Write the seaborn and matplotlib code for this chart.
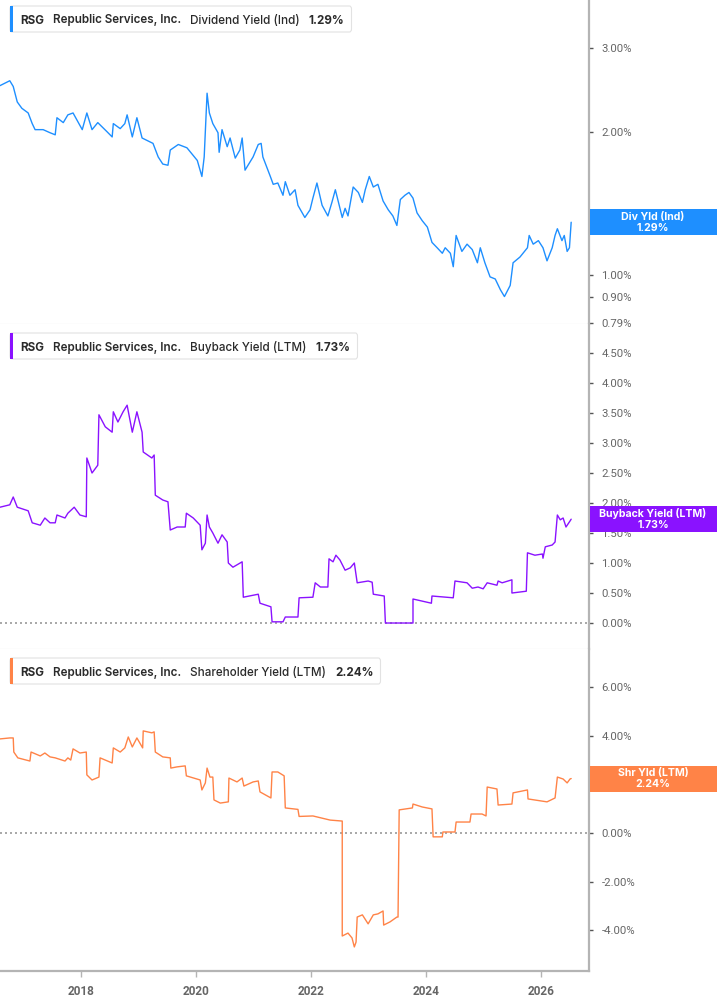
import numpy as np
import pandas as pd
import seaborn as sns
import matplotlib.pyplot as plt
from matplotlib.patches import Rectangle, FancyBboxPatch
from matplotlib.ticker import FixedLocator, NullLocator

##############################
# DATA
##############################

div_years = [2016.59, 2016.76, 2016.82, 2016.89, 2016.97, 2017.08, 2017.15, 2017.20, 2017.34, 2017.46,
             2017.55, 2017.58, 2017.69, 2017.77, 2017.86, 2018.02, 2018.10, 2018.19, 2018.29, 2018.45,
             2018.54, 2018.56, 2018.68, 2018.76, 2018.80, 2018.89, 2018.97, 2019.06, 2019.25, 2019.34,
             2019.42, 2019.51, 2019.55, 2019.69, 2019.84, 2020.02, 2020.10, 2020.14, 2020.19, 2020.23,
             2020.29, 2020.38, 2020.40, 2020.45, 2020.54, 2020.59, 2020.68, 2020.76, 2020.80, 2020.85,
             2020.99, 2021.08, 2021.13, 2021.16, 2021.29, 2021.34, 2021.42, 2021.51, 2021.55, 2021.63,
             2021.72, 2021.77, 2021.89, 2021.98, 2022.03, 2022.10, 2022.19, 2022.29, 2022.36, 2022.42,
             2022.54, 2022.59, 2022.64, 2022.73, 2022.82, 2022.89, 2022.94, 2023.01, 2023.08, 2023.16,
             2023.25, 2023.34, 2023.42, 2023.49, 2023.55, 2023.63, 2023.70, 2023.77, 2023.84, 2023.93,
             2024.02, 2024.10, 2024.19, 2024.28, 2024.33, 2024.42, 2024.47, 2024.52, 2024.62, 2024.71,
             2024.80, 2024.89, 2024.94, 2025.02, 2025.11, 2025.20, 2025.29, 2025.36, 2025.46, 2025.51,
             2025.63, 2025.76, 2025.79, 2025.86, 2025.95, 2026.03, 2026.10, 2026.19, 2026.24, 2026.28,
             2026.36, 2026.40, 2026.45, 2026.49, 2026.52]
div_vals = [2.50, 2.56, 2.49, 2.31, 2.24, 2.19, 2.08, 2.02, 2.02, 1.99,
            1.97, 2.14, 2.09, 2.17, 2.19, 2.02, 2.19, 2.02, 2.09, 2.00,
            1.95, 2.08, 2.03, 2.08, 2.17, 1.95, 2.14, 1.94, 1.89, 1.77,
            1.71, 1.70, 1.83, 1.88, 1.85, 1.74, 1.61, 1.77, 2.41, 2.19,
            2.08, 1.99, 1.81, 2.02, 1.86, 1.94, 1.76, 1.83, 1.94, 1.66,
            1.77, 1.88, 1.89, 1.77, 1.61, 1.55, 1.56, 1.47, 1.57, 1.47,
            1.51, 1.40, 1.32, 1.37, 1.45, 1.56, 1.40, 1.33, 1.42, 1.51,
            1.32, 1.38, 1.33, 1.53, 1.49, 1.42, 1.51, 1.61, 1.53, 1.55,
            1.43, 1.37, 1.33, 1.27, 1.44, 1.47, 1.49, 1.45, 1.35, 1.30,
            1.26, 1.17, 1.14, 1.11, 1.14, 1.11, 1.04, 1.21, 1.12, 1.16,
            1.13, 1.06, 1.14, 1.06, 0.99, 0.98, 0.93, 0.90, 0.95, 1.06,
            1.09, 1.14, 1.21, 1.16, 1.18, 1.14, 1.07, 1.14, 1.21, 1.25,
            1.18, 1.21, 1.12, 1.14, 1.29]

bb_years = [2016.59, 2016.76, 2016.82, 2016.89, 2017.08, 2017.15, 2017.29, 2017.37, 2017.46, 2017.55,
            2017.58, 2017.72, 2017.77, 2017.88, 2017.98, 2018.09, 2018.10, 2018.19, 2018.29, 2018.31,
            2018.42, 2018.54, 2018.56, 2018.64, 2018.73, 2018.80, 2018.89, 2018.97, 2019.06, 2019.08,
            2019.23, 2019.27, 2019.29, 2019.42, 2019.51, 2019.55, 2019.67, 2019.81, 2019.83, 2019.95,
            2020.07, 2020.10, 2020.16, 2020.19, 2020.23, 2020.29, 2020.38, 2020.45, 2020.54, 2020.56,
            2020.64, 2020.80, 2020.82, 2021.08, 2021.11, 2021.30, 2021.32, 2021.51, 2021.55, 2021.77,
            2021.79, 2022.03, 2022.07, 2022.16, 2022.29, 2022.31, 2022.38, 2022.43, 2022.50, 2022.59,
            2022.68, 2022.75, 2022.80, 2022.99, 2023.06, 2023.08, 2023.27, 2023.29, 2023.77, 2023.77,
            2024.09, 2024.10, 2024.47, 2024.50, 2024.71, 2024.80, 2024.90, 2024.99, 2025.06, 2025.23,
            2025.25, 2025.32, 2025.49, 2025.49, 2025.74, 2025.76, 2025.89, 2026.02, 2026.03, 2026.07,
            2026.19, 2026.24, 2026.28, 2026.33, 2026.38, 2026.43, 2026.50, 2026.52]
bb_vals = [1.93, 1.97, 2.10, 1.93, 1.87, 1.67, 1.63, 1.75, 1.67, 1.67,
           1.80, 1.75, 1.83, 1.93, 1.80, 1.77, 2.75, 2.50, 2.63, 3.47,
           3.27, 3.18, 3.52, 3.35, 3.52, 3.63, 3.18, 3.52, 3.18, 2.85,
           2.75, 2.80, 2.13, 2.05, 2.02, 1.55, 1.60, 1.60, 1.83, 1.75,
           1.63, 1.22, 1.33, 1.80, 1.60, 1.50, 1.33, 1.47, 1.35, 1.00,
           0.93, 1.02, 0.43, 0.48, 0.33, 0.27, 0.02, 0.02, 0.10, 0.10,
           0.42, 0.43, 0.67, 0.60, 0.60, 1.07, 1.02, 1.13, 1.05, 0.88,
           0.92, 1.00, 0.67, 0.70, 0.68, 0.48, 0.45, 0.00, 0.00, 0.40,
           0.33, 0.45, 0.42, 0.70, 0.67, 0.58, 0.60, 0.57, 0.67, 0.63,
           0.70, 0.67, 0.72, 0.50, 0.53, 1.17, 1.13, 1.15, 1.08, 1.27,
           1.30, 1.35, 1.80, 1.72, 1.75, 1.60, 1.70, 1.73]

shr_years = [2016.59, 2016.76, 2016.82, 2016.83, 2016.90, 2017.11, 2017.13, 2017.29, 2017.37, 2017.46,
             2017.55, 2017.72, 2017.77, 2017.82, 2017.86, 2017.98, 2018.09, 2018.10, 2018.19, 2018.31,
             2018.33, 2018.54, 2018.56, 2018.68, 2018.76, 2018.82, 2018.89, 2018.97, 2019.07, 2019.08,
             2019.23, 2019.27, 2019.29, 2019.42, 2019.55, 2019.56, 2019.67, 2019.81, 2019.83, 2020.07,
             2020.10, 2020.16, 2020.19, 2020.24, 2020.29, 2020.31, 2020.42, 2020.56, 2020.57, 2020.71,
             2020.80, 2020.83, 2020.99, 2021.08, 2021.11, 2021.30, 2021.32, 2021.42, 2021.53, 2021.55,
             2021.77, 2021.79, 2022.03, 2022.33, 2022.54, 2022.54, 2022.64, 2022.71, 2022.75, 2022.78,
             2022.80, 2022.89, 2022.99, 2023.08, 2023.16, 2023.25, 2023.26, 2023.37, 2023.49, 2023.51,
             2023.53, 2023.76, 2023.77, 2023.93, 2024.10, 2024.12, 2024.28, 2024.29, 2024.50, 2024.52,
             2024.76, 2024.78, 2024.97, 2025.04, 2025.06, 2025.23, 2025.25, 2025.49, 2025.51, 2025.76,
             2025.77, 2026.10, 2026.24, 2026.28, 2026.38, 2026.45, 2026.50, 2026.52]
shr_vals = [3.87, 3.91, 3.91, 3.33, 3.09, 2.96, 3.33, 3.17, 3.29, 3.13,
            3.09, 2.96, 3.09, 3.00, 3.46, 3.29, 3.33, 2.39, 2.18, 2.30,
            3.09, 2.88, 3.50, 3.33, 3.50, 3.95, 3.54, 3.91, 3.50, 4.20,
            4.12, 4.16, 3.33, 3.13, 3.09, 2.67, 2.72, 2.76, 2.35, 2.18,
            1.77, 2.06, 2.67, 2.30, 2.30, 1.36, 1.23, 1.28, 2.26, 2.10,
            2.26, 1.93, 2.10, 2.14, 1.69, 1.44, 2.51, 2.51, 2.35, 1.03,
            0.97, 0.68, 0.70, 0.53, 0.49, -4.24, -4.12, -4.32, -4.69, -4.49,
            -3.46, -3.37, -3.74, -3.37, -3.33, -3.21, -3.79, -3.66, -3.46, -3.46,
            0.95, 1.03, 1.19, 1.07, 0.99, -0.16, -0.16, 0.04, 0.04, 0.45,
            0.45, 0.78, 0.78, 0.70, 1.89, 1.81, 1.15, 1.19, 1.65, 1.77,
            1.40, 1.28, 1.44, 2.30, 2.22, 2.06, 2.22, 2.24]

series_names = ["Dividend Yield (Ind)", "Buyback Yield (LTM)", "Shareholder Yield (LTM)"]
short_names = ["Div Yld (Ind)", "Buyback Yield (LTM)", "Shr Yld (LTM)"]
last_vals = ["1.29%", "1.73%", "2.24%"]
colors = ["#1e8fff", "#8a12ff", "#ff8347"]

div_ticks = [3.0, 2.0, 1.0, 0.9, 0.79]
bb_ticks = [0.0, 0.5, 1.0, 1.5, 2.0, 2.5, 3.0, 3.5, 4.0, 4.5]
shr_ticks = [-4.0, -2.0, 0.0, 2.0, 4.0, 6.0]
year_ticks = [2018, 2020, 2022, 2024, 2026]

############################################
# FIGURE SETUP
############################################

sns.set_style("white")
plt.rcParams["font.family"] = ["Inter", "DejaVu Sans"]

W, H = 717, 1005
fig = plt.figure(figsize=(W / 100, H / 100), dpi=100)


def fx(x):
    return x / W


def fy(y):
    return 1 - y / H


panels = [(0, 324), (324, 649), (649, 971)]
plot_right = 589
axes = []
for top, bot in panels:
    ax = fig.add_axes([0, fy(bot), fx(plot_right), (bot - top) / H])
    axes.append(ax)

data = [(div_years, div_vals), (bb_years, bb_vals), (shr_years, shr_vals)]
ylims = [(0.788, 3.785), (-0.433, 4.983), (-5.68, 7.57)]
yticks = [div_ticks, bb_ticks, shr_ticks]

tick_grey = "#666666"
spine_grey = "#b4b4b4"

for i, ax in enumerate(axes):
    xs, ys = data[i]
    df = pd.DataFrame({"year": xs, "val": ys})
    sns.lineplot(data=df, x="year", y="val", ax=ax, color=colors[i], lw=1.0,
                 estimator=None, sort=False)
    if i == 0:
        ax.set_yscale("log")
    ax.set_xlim(2016.59, 2026.83)
    ax.set_ylim(*ylims[i])
    ax.set_xlabel("")
    ax.set_ylabel("")

    ax.yaxis.tick_right()
    ax.yaxis.set_major_locator(FixedLocator(yticks[i]))
    ax.yaxis.set_minor_locator(NullLocator())
    ax.set_yticklabels([f"{t:.2f}%" for t in yticks[i]])
    ax.tick_params(axis="y", which="major", direction="out", length=3, width=1,
                   color="#555555", labelcolor=tick_grey, labelsize=8.2, pad=6,
                   right=True, left=False)
    for lab in ax.get_yticklabels():
        lab.set_fontfamily("Roboto")

    ax.spines["left"].set_visible(False)
    ax.spines["top"].set_visible(False)
    ax.spines["right"].set_color(spine_grey)
    ax.spines["right"].set_linewidth(1.6)

    if i < 2:
        ax.spines["bottom"].set_color("#cfcfcf")
        ax.spines["bottom"].set_linewidth(0.8)
        ax.set_xticks([])
    else:
        ax.spines["bottom"].set_color(spine_grey)
        ax.spines["bottom"].set_linewidth(1.6)
        ax.set_xticks(year_ticks)
        ax.set_xticklabels([str(y) for y in year_ticks], fontweight="bold",
                           fontfamily="Roboto")
        ax.tick_params(axis="x", direction="out", length=4, width=1,
                       color=spine_grey, labelcolor=tick_grey, labelsize=8.5, pad=6,
                       bottom=True)

    if i > 0:
        ax.axhline(0, color="#9a9a9a", lw=1.2, ls=(0, (1.2, 1.8)), zorder=1)

############################################
# LEGEND BOXES (top-left of each panel)
############################################

renderer = fig.canvas.get_renderer()
box_offsets = [6, 9, 9]
for i, (top, bot) in enumerate(panels):
    y0 = top + box_offsets[i]
    bh = 26

    parts = [("RSG", "bold"), ("Republic Services, Inc.", "semibold"),
             (series_names[i], "medium"), (last_vals[i], "bold")]
    x = 20
    for s, w in parts:
        t = fig.text(fx(x), fy(y0 + 17.5), s, fontsize=8.4, fontweight=w,
                     color="#2a2a2a", ha="left", va="baseline")
        x += t.get_window_extent(renderer).width + 9
    text_end = x - 9

    box = FancyBboxPatch((fx(10), fy(y0 + bh)), fx(text_end + 7 - 10), bh / H,
                         boxstyle="round,pad=0,rounding_size=0.003",
                         transform=fig.transFigure, fc="white", ec="#e2e2e2", lw=0.8)
    fig.add_artist(box)
    bar = Rectangle((fx(10), fy(y0 + bh)), fx(3), bh / H, transform=fig.transFigure,
                    color=colors[i], lw=0)
    fig.add_artist(bar)

############################################
# RIGHT-SIDE VALUE LABELS
############################################

end_vals = [div_vals[-1], bb_vals[-1], shr_vals[-1]]
for i, ax in enumerate(axes):
    disp_y = ax.transData.transform((2026.0, end_vals[i]))[1]
    yc = disp_y / fig.bbox.height
    rh = 26 / H
    rect = Rectangle((fx(plot_right + 1), yc - rh / 2), fx(W - plot_right - 1), rh,
                     transform=fig.transFigure, color=colors[i], lw=0)
    fig.add_artist(rect)
    fig.text(fx((plot_right + W) / 2), yc + 5.5 / H, short_names[i],
             ha="center", va="center", color="white", fontsize=7.6, fontweight="bold")
    fig.text(fx((plot_right + W) / 2), yc - 5.5 / H, last_vals[i],
             ha="center", va="center", color="white", fontsize=7.6, fontweight="bold")

plt.savefig("out.png", dpi=100)
